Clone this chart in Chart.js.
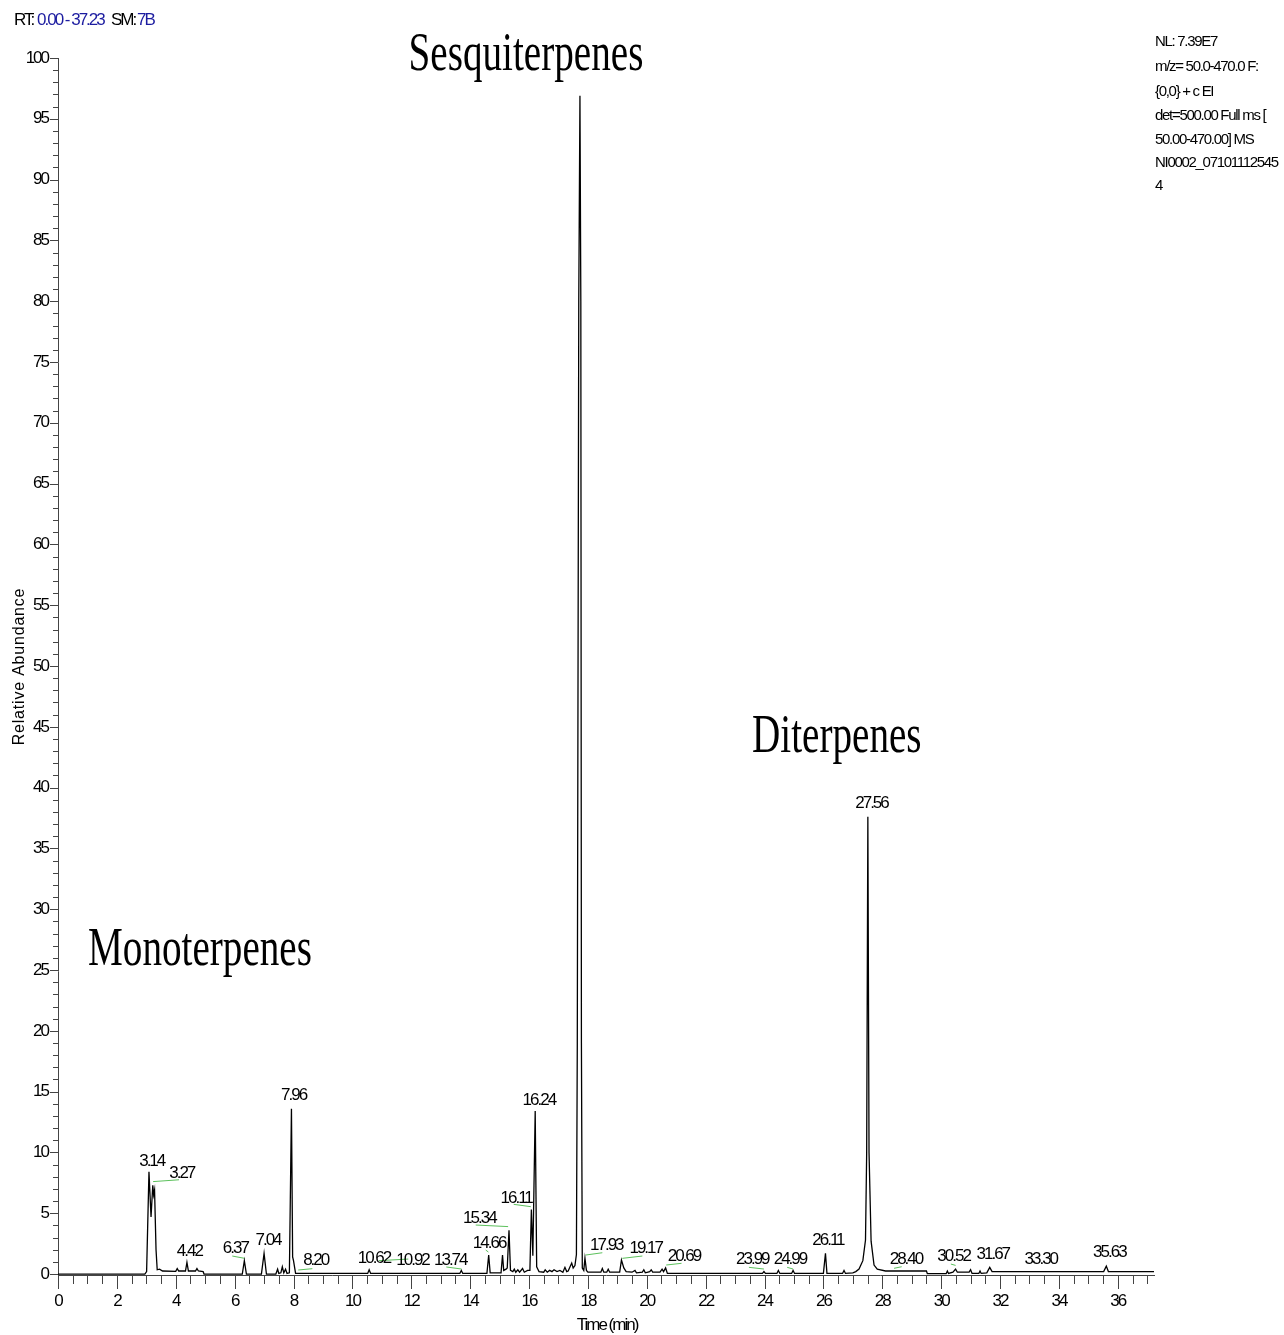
<!DOCTYPE html>
<html>
<head>
<meta charset="utf-8">
<title>TIC chromatogram</title>
<script src="https://cdn.jsdelivr.net/npm/chart.js@4.4.1/dist/chart.umd.min.js"></script>
<style>
  html, body { margin: 0; padding: 0; background: #fff; }
  canvas { display: block; }
</style>
</head>
<body>
<canvas id="canvas" width="1284" height="1335"></canvas>
<script>
// trace (time in min, relative abundance in %)
const retentionTimes = [
  0, 2.95, 3.01, 3.09, 3.16, 3.22, 3.25, 3.28, 3.33, 3.37, 3.45, 3.55, 4.0, 4.05, 4.1,
  4.33, 4.38, 4.43, 4.67, 4.72, 4.77, 4.93, 4.96,
  6.26, 6.33, 6.40, 6.91, 7.00, 7.08, 7.40, 7.46, 7.50, 7.57, 7.62, 7.67, 7.73, 7.78,
  7.86, 7.93, 7.97, 8.00, 8.07,
  10.52, 10.57, 10.62, 13.65, 13.70, 13.75,
  14.57, 14.63, 14.68, 15.05, 15.10, 15.14, 15.22, 15.26, 15.32, 15.37, 15.45, 15.50,
  15.55, 15.62, 15.68, 15.78, 15.84, 15.95, 16.03, 16.08, 16.13, 16.21, 16.26, 16.30,
  16.34, 16.50, 16.55, 16.62, 16.70, 16.78, 16.85, 16.95, 17.05, 17.15, 17.22, 17.28,
  17.33, 17.45, 17.50, 17.56, 17.61, 17.64, 17.69, 17.73, 17.76, 17.78, 17.81, 17.86,
  17.90, 17.95, 18.00, 18.44, 18.49, 18.54, 18.64, 18.69, 18.74, 19.08, 19.14, 19.22,
  19.30, 19.50, 19.60, 19.65, 19.85, 19.90, 19.95, 20.10, 20.15, 20.20, 20.45, 20.52,
  20.57, 20.64, 20.70,
  23.93, 23.98, 24.03, 24.42, 24.47, 24.52, 24.92, 24.97, 25.02,
  26.00, 26.07, 26.12, 26.65, 26.70, 26.75, 27.00, 27.10, 27.21, 27.34, 27.43, 27.47,
  27.51, 27.55, 27.62, 27.72, 27.83, 28.11, 29.50, 29.53,
  30.17, 30.21, 30.25, 30.40, 30.49, 30.55, 30.95, 31.00, 31.05, 31.28, 31.32, 31.36,
  31.55, 31.65, 31.73, 35.52, 35.61, 35.68, 37.23
];
const relAbundance = [
  0, 0, 0.2, 8.4, 4.7, 7.3, 6.5, 6.9, 2.0, 0.35, 0.4, 0.25, 0.22, 0.45, 0.25,
  0.25, 0.96, 0.25, 0.25, 0.45, 0.25, 0.2, 0,
  0, 1.1, 0, 0, 1.7, 0, 0, 0.4, 0.05, 0.1, 0.6, 0.1, 0.4, 0.05,
  0.1, 13.6, 1.4, 1.1, 0.05,
  0.05, 0.35, 0.05, 0.05, 0.3, 0.05,
  0.05, 1.56, 0.1, 0.1, 1.56, 0.3, 0.4, 0.5, 3.6, 0.3, 0.2, 0.4,
  0.15, 0.35, 0.15, 0.45, 0.15, 0.3, 0.3, 5.3, 1.5, 13.4, 0.6, 0.4,
  0.2, 0.15, 0.35, 0.15, 0.3, 0.2, 0.35, 0.2, 0.3, 0.15, 0.55, 0.2,
  0.25, 0.9, 0.5, 0.7, 1.6, 19, 80, 96.9, 80, 19, 0.5, 0.3,
  1.3, 0.3, 0.15, 0.15, 0.45, 0.15, 0.15, 0.4, 0.15, 0.15, 1.15, 0.5,
  0.2, 0.15, 0.3, 0.1, 0.15, 0.35, 0.1, 0.2, 0.35, 0.15, 0.15, 0.4,
  0.2, 0.5, 0.05,
  0.05, 0.2, 0.05, 0.05, 0.3, 0.05, 0.05, 0.3, 0.05,
  0.05, 1.7, 0.05, 0.05, 0.3, 0.05, 0.1, 0.2, 0.41, 1.1, 2.8, 10,
  37.6, 10, 2.7, 0.74, 0.4, 0.25, 0.25, 0.03,
  0.03, 0.25, 0.05, 0.15, 0.4, 0.15, 0.15, 0.35, 0.05, 0.05, 0.25, 0.05,
  0.1, 0.55, 0.2, 0.2, 0.65, 0.2, 0.2
];

// peak annotations
const peakLabels = ["3.14", "3.27", "4.42", "6.37", "7.04", "7.96", "8.20", "10.62", "10.92",
  "13.74", "14.66", "15.34", "16.11", "16.24", "17.93", "19.17", "20.69", "23.99", "24.99",
  "26.11", "27.56", "28.40", "30.52", "31.67", "33.30", "35.63"];
const peakLabelRT = [3.15, 4.17, 4.43, 5.99, 7.10, 7.97, 8.72, 10.70, 12.01,
  13.29, 14.61, 14.28, 15.53, 16.30, 18.59, 19.93, 21.23, 23.55, 24.83,
  26.12, 27.60, 28.77, 30.39, 31.72, 33.35, 35.68];
const peakLabelAbund = [9.26, 8.3, 1.86, 2.08, 2.76, 14.69, 1.12, 1.26, 1.12,
  1.12, 2.49, 4.55, 6.19, 14.31, 2.35, 2.14, 1.42, 1.2, 1.2,
  2.8, 38.68, 1.18, 1.45, 1.59, 1.2, 1.75];

// green integration markers
const markerStartRT = [3.23, 5.92, 8.16, 10.90, 13.19, 14.53, 14.19, 15.48, 17.92, 19.17, 20.66, 23.47, 24.77, 28.40, 30.33];
const markerEndRT   = [4.11, 6.34, 8.64, 11.90, 13.71, 14.62, 15.29, 16.06, 18.49, 19.85, 21.18, 23.98, 24.97, 28.66, 30.49];
const markerStartAbund = [7.6, 1.48, 0.33, 1.10, 0.58, 1.97, 4.03, 5.73, 1.56, 1.29, 0.74, 0.55, 0.55, 0.47, 0.82];
const markerEndAbund   = [7.75, 1.29, 0.44, 1.23, 0.41, 1.81, 3.90, 5.54, 1.75, 1.48, 0.88, 0.41, 0.41, 0.60, 0.71];

const xTickLabels = [0, 2, 4, 6, 8, 10, 12, 14, 16, 18, 20, 22, 24, 26, 28, 30, 32, 34, 36];
const yTickLabels = [0, 5, 10, 15, 20, 25, 30, 35, 40, 45, 50, 55, 60, 65, 70, 75, 80, 85, 90, 95, 100];

const groupNames = ["Monoterpenes", "Sesquiterpenes", "Diterpenes"];
const infoLines = ["NL: 7.39E7", "m/z= 50.0-470.0 F:", "{0,0} + c EI", "det=500.00 Full ms [",
  "50.00-470.00] MS", "NI0002_07101112545", "4"];

const trace = retentionTimes.map((t, i) => ({ x: t, y: relAbundance[i] }));
const markers = [];
markerStartRT.forEach((t, i) => {
  markers.push({ x: t, y: markerStartAbund[i] });
  markers.push({ x: markerEndRT[i], y: markerEndAbund[i] });
  markers.push({ x: markerEndRT[i], y: null });
});

const SANS = '"Liberation Sans", Arial, sans-serif';
const SERIF = '"Liberation Serif", "Times New Roman", serif';

const decor = {
  id: 'decor',
  beforeDraw(chart) {
    const c = chart.ctx;
    c.save();
    c.fillStyle = '#fff';
    c.fillRect(0, 0, chart.width, chart.height);
    c.restore();
    c.letterSpacing = '-2px';
  },
  afterDraw(chart) {
    const c = chart.ctx;
    const xs = chart.scales.x, ys = chart.scales.y, area = chart.chartArea;
    c.save();

    // tick marks
    c.strokeStyle = '#444';
    c.lineWidth = 1;
    c.beginPath();
    for (let v = 0; v <= 37; v += 0.5) {
      const px = Math.round(xs.getPixelForValue(v)) + 0.5;
      const len = v % 2 === 0 ? 14 : 9;
      c.moveTo(px, area.bottom);
      c.lineTo(px, area.bottom + len);
    }
    for (let v = 0; v <= 100; v += 1) {
      const py = Math.round(ys.getPixelForValue(v)) + 0.5;
      const len = v % 5 === 0 ? 8 : 5;
      c.moveTo(area.left, py);
      c.lineTo(area.left - len, py);
    }
    c.stroke();

    // peak labels
    c.fillStyle = '#000';
    c.font = '17px ' + SANS;
    c.letterSpacing = '-2px';
    c.textAlign = 'center';
    c.textBaseline = 'middle';
    peakLabels.forEach((s, i) => {
      c.fillText(s, xs.getPixelForValue(peakLabelRT[i]) + 1, ys.getPixelForValue(peakLabelAbund[i]));
    });

    // axis titles
    c.textBaseline = 'alphabetic';
    c.fillText('Time (min)', (area.left + area.right) / 2 + 1, 1330);
    c.save();
    c.letterSpacing = '0.8px';
    c.font = '16px ' + SANS;
    c.translate(24, (area.top + area.bottom) / 2);
    c.rotate(-Math.PI / 2);
    c.fillText('Relative Abundance', 0, 0);
    c.restore();

    // header
    c.textAlign = 'left';
    c.textBaseline = 'middle';
    c.font = '17px ' + SANS;
    c.letterSpacing = '-2px';
    c.fillStyle = '#000';
    c.fillText('RT:', 14, 20);
    c.fillText('SM:', 111, 20);
    c.fillStyle = '#1c1ca0';
    c.fillText('0.00 - 37.23', 37, 20);
    c.fillText('7B', 137, 20);

    // instrument info
    c.fillStyle = '#000';
    c.font = '15px ' + SANS;
    c.letterSpacing = '-1.3px';
    const infoY = [42, 67, 92, 116, 140, 163, 186];
    infoLines.forEach((s, i) => c.fillText(s, 1155, infoY[i]));

    // group titles
    c.letterSpacing = '0px';
    c.font = '54px ' + SERIF;
    c.textBaseline = 'alphabetic';
    const groups = [[88, 965, 'left'], [526, 70, 'center'], [752, 752, 'left']];
    groupNames.forEach((g, i) => {
      c.save();
      c.translate(groups[i][0], groups[i][1]);
      c.scale(0.725, 1);
      c.textAlign = groups[i][2];
      c.fillText(g, 0, 0);
      c.restore();
    });

    c.restore();
  }
};

new Chart(document.getElementById('canvas'), {
  type: 'line',
  data: {
    datasets: [
      {
        label: 'TIC',
        data: trace,
        borderColor: '#000',
        borderWidth: 1.3,
        pointRadius: 0,
        tension: 0,
        fill: false
      },
      {
        label: 'markers',
        data: markers,
        borderColor: '#5cc15c',
        borderWidth: 1,
        pointRadius: 0,
        spanGaps: false,
        fill: false
      }
    ]
  },
  options: {
    responsive: false,
    animation: false,
    devicePixelRatio: 1,
    layout: { padding: { top: 58, right: 130, bottom: 0, left: 0 } },
    plugins: { legend: { display: false }, tooltip: { enabled: false } },
    scales: {
      x: {
        type: 'linear',
        min: 0,
        max: 37.23,
        grid: { display: false, drawTicks: false },
        border: { display: true, color: '#444', width: 1 },
        ticks: {
          color: '#000',
          font: { family: SANS, size: 17 },
          padding: 16,
          maxRotation: 0,
          autoSkip: false
        },
        afterBuildTicks: s => { s.ticks = xTickLabels.map(v => ({ value: v })); },
        afterFit: s => { s.height = 60; }
      },
      y: {
        type: 'linear',
        min: -0.08,
        max: 100,
        grid: { display: false, drawTicks: false },
        border: { display: true, color: '#444', width: 1 },
        ticks: {
          color: '#000',
          font: { family: SANS, size: 17 },
          padding: 10,
          autoSkip: false
        },
        afterBuildTicks: s => { s.ticks = yTickLabels.map(v => ({ value: v })); },
        afterFit: s => { s.width = 58; }
      }
    }
  },
  plugins: [decor]
});
</script>
</body>
</html>
